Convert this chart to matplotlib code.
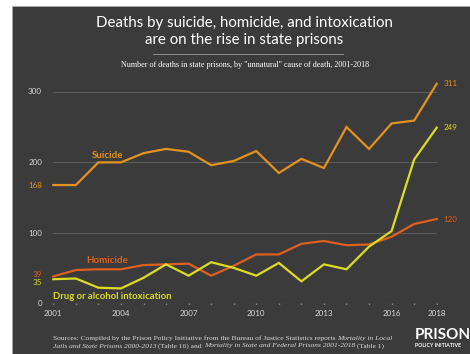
import matplotlib
matplotlib.use("Agg")
import matplotlib.pyplot as plt
from matplotlib.patches import Rectangle
from matplotlib.lines import Line2D

years = list(range(2001, 2019))
suicide = [168, 168, 200, 200, 213, 219, 215, 196, 202, 216, 185, 205, 192, 250, 219, 255, 259, 311]
homicide = [39, 48, 49, 49, 55, 56, 57, 40, 54, 70, 70, 85, 89, 83, 84, 95, 113, 120]
drug = [35, 36, 23, 22, 37, 56, 40, 59, 51, 40, 58, 32, 56, 49, 81, 103, 204, 249]
xticks = [2001, 2004, 2007, 2010, 2013, 2016, 2018]
yticks = [0, 100, 200, 300]

c_sui = "#e3921f"
c_hom = "#dd601e"
c_drug = "#dcdc22"
bg = "#3b3b3b"
txt = "#d8d8d8"
W, H = 470, 354

fig = plt.figure(figsize=(4.7, 3.54), dpi=100)
fig.patch.set_facecolor("white")
fig.patches.append(Rectangle((12 / W, 0), 1, 1 - 6 / H, transform=fig.transFigure,
                             facecolor=bg, edgecolor="#aaaaaa", lw=0.6, zorder=-10))

ax = fig.add_axes([53.3 / W, (H - 304) / H, 383.4 / W, 226.6 / H])
ax.set_xlim(2001, 2018)
ax.set_ylim(0, 320)
ax.axis("off")

for v in yticks[1:]:
    ax.plot([2001, 2018], [v, v], color="#5c5c5c", lw=0.8, zorder=1)
    ax.text(2000.5, v, str(v), color=txt, fontsize=5.8, ha="right", va="center", family="Lato")
ax.plot([2001, 2018], [0, 0], color="#6a6a6a", lw=0.8, zorder=1)
ax.plot(years, [0] * len(years), ls="none", marker="|", ms=2, color="#8a8a8a")
ax.text(2000.5, 0, "0", color=txt, fontsize=5.8, ha="right", va="center", family="Lato")
for x in xticks:
    ax.text(x, -14, str(x), color=txt, fontsize=5.8, ha="center", va="center", family="Lato")

for data, c in [(suicide, c_sui), (homicide, c_hom), (drug, c_drug)]:
    ax.plot(years, data, color=c, lw=1.6, clip_on=False, solid_joinstyle="miter", zorder=3)

# start / end values
ax.text(2000.5, 168, "168", color=c_sui, fontsize=5.8, ha="right", va="center", family="Lato")
ax.text(2000.5, 42, "39", color=c_hom, fontsize=5.8, ha="right", va="center", family="Lato")
ax.text(2000.5, 30, "35", color=c_drug, fontsize=5.8, ha="right", va="center", family="Lato")
ax.text(2018.3, 311, "311", color=c_sui, fontsize=5.8, ha="left", va="center", family="Lato")
ax.text(2018.3, 249, "249", color=c_drug, fontsize=5.8, ha="left", va="center", family="Lato")
ax.text(2018.3, 120, "120", color=c_hom, fontsize=5.8, ha="left", va="center", family="Lato")

# series labels
ax.text(2003.4, 210, "Suicide", color=c_sui, fontsize=7, ha="center", va="center", family="Lato", weight="bold")
ax.text(2003.4, 61, "Homicide", color=c_hom, fontsize=7, ha="center", va="center", family="Lato", weight="bold")
ax.text(2001, 11, "Drug or alcohol intoxication", color=c_drug, fontsize=6.8, ha="left", va="center",
        family="Lato", weight="bold")

# titles
fig.text(244 / W, 1 - 23 / H, "Deaths by suicide, homicide, and intoxication", color="white",
         fontsize=10.8, ha="center", va="center", family="Lato")
fig.text(244 / W, 1 - 40 / H, "are on the rise in state prisons", color="white",
         fontsize=10.8, ha="center", va="center", family="Lato")
fig.add_artist(Line2D([153 / W, 343 / W], [1 - 54 / H, 1 - 54 / H], color="#9a9a9a", lw=0.6))
fig.text(245 / W, 1 - 65 / H, 'Number of deaths in state prisons, by "unnatural" cause of death, 2001-2018',
         color="white", fontsize=5.9, ha="center", va="center", family="Liberation Serif")

# sources, mixed roman / italic
r = fig.canvas.get_renderer()


def runs(parts, x0, y0):
    x = x0
    for s, italic in parts:
        t = fig.text(x / W, 1 - y0 / H, s, color=txt, fontsize=5.4, ha="left", va="baseline",
                     family="Liberation Serif", style="italic" if italic else "normal")
        x += t.get_window_extent(r).width


runs([("Sources: Compiled by the Prison Policy Initiative from the Bureau of Justice Statistics reports ", False),
      ("Mortality in Local", True)], 53, 340)
runs([("Jails and State Prisons 2000-2013", True), (" (Table 16) and ", False),
      ("Mortality in State and Federal Prisons 2001-2018", True), (" (Table 1)", False)], 53, 347.5)

fig.text(415 / W, 1 - 335 / H, "PRISON", color="white", fontsize=11, weight="bold", ha="left",
         va="center", family="Lato")
fig.text(415 / W, 1 - 345.5 / H, "POLICY INITIATIVE", color="white", fontsize=3.8, weight="bold",
         ha="left", va="center", family="Lato")

fig.savefig("out.png", dpi=100, facecolor=fig.get_facecolor())
